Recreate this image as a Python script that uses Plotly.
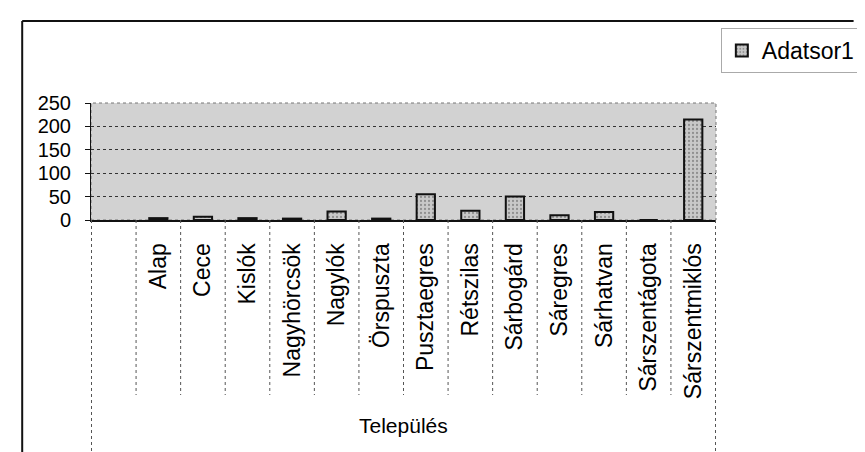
import plotly.graph_objects as go

# data (first category is an empty cell)
telepulesek = [" ", "Alap", "Cece", "Kislók", "Nagyhörcsök", "Nagylók", "Örspuszta",
               "Pusztaegres", "Rétszilas", "Sárbogárd", "Sáregres", "Sárhatvan",
               "Sárszentágota", "Sárszentmiklós"]
adatsor1 = [None, 4, 7, 4, 3, 18, 3, 55, 20, 50, 10, 17, 0, 215]
y_ticks = [0, 50, 100, 150, 200, 250]

W, H = 865, 452
L, R, T, B = 83, 137, 95, 240
pw, ph = W - L - R, H - T - B


def px_x(x):
    return (x - L) / pw


def px_y(y):
    return (H - B - y) / ph


FONT = "Arial, Liberation Sans, sans-serif"

fig = go.Figure()
fig.add_trace(go.Bar(
    x=telepulesek, y=adatsor1, name="Adatsor1", width=0.41,
    marker=dict(color="#c8c8c8", line=dict(color="#111111", width=2),
                pattern=dict(shape=".", fgcolor="#555555", size=4, solidity=0.25)),
))

shapes = []
# category separators below the axis
n = len(telepulesek)
for i in range(n + 1):
    outer = i == 0 or i == n
    shapes.append(dict(type="line", xref="x", yref="paper", x0=i - 0.5, x1=i - 0.5,
                       y0=0, y1=px_y(443 if outer else 387),
                       line=dict(color="#555555", width=1, dash="dot")))
# plot area outline
shapes.append(dict(type="rect", xref="paper", yref="paper", x0=0, x1=1, y0=0, y1=1,
                   line=dict(color="#777777", width=1, dash="dot"), layer="below"))
# chart border (left and top)
shapes.append(dict(type="line", xref="paper", yref="paper", x0=px_x(12), x1=px_x(12),
                   y0=px_y(13), y1=px_y(460), line=dict(color="#111111", width=2)))
shapes.append(dict(type="line", xref="paper", yref="paper", x0=px_x(12), x1=px_x(870),
                   y0=px_y(13), y1=px_y(13), line=dict(color="#111111", width=2)))

fig.update_layout(
    width=W, height=H,
    margin=dict(l=L, r=R, t=T, b=B),
    paper_bgcolor="white",
    plot_bgcolor="#d2d2d2",
    font=dict(family=FONT, size=22, color="black"),
    bargap=0.59,
    shapes=shapes,
    showlegend=True,
    legend=dict(x=px_x(733), y=px_y(20), xanchor="left", yanchor="top",
                bgcolor="white", bordercolor="#aaaaaa", borderwidth=1,
                font=dict(size=23), itemsizing="constant"),
    annotations=[dict(text="Település", xref="paper", yref="paper",
                      x=px_x(406), y=px_y(417), showarrow=False,
                      font=dict(size=21), xanchor="center", yanchor="middle")],
)
fig.update_xaxes(
    type="category", tickangle=-90, tickfont=dict(size=23),
    showline=True, linecolor="#111111", linewidth=2,
    ticks="", ticklabelstandoff=12, showgrid=False,
)
fig.update_yaxes(
    range=[0, 250], tickvals=y_ticks, tickfont=dict(size=20),
    showline=True, linecolor="#111111", linewidth=1,
    ticks="outside", ticklen=5, tickcolor="#111111", ticklabelstandoff=10,
    showgrid=True, gridcolor="#333333", gridwidth=1, griddash="dot",
    zeroline=False,
)

fig.write_html("out.html")
